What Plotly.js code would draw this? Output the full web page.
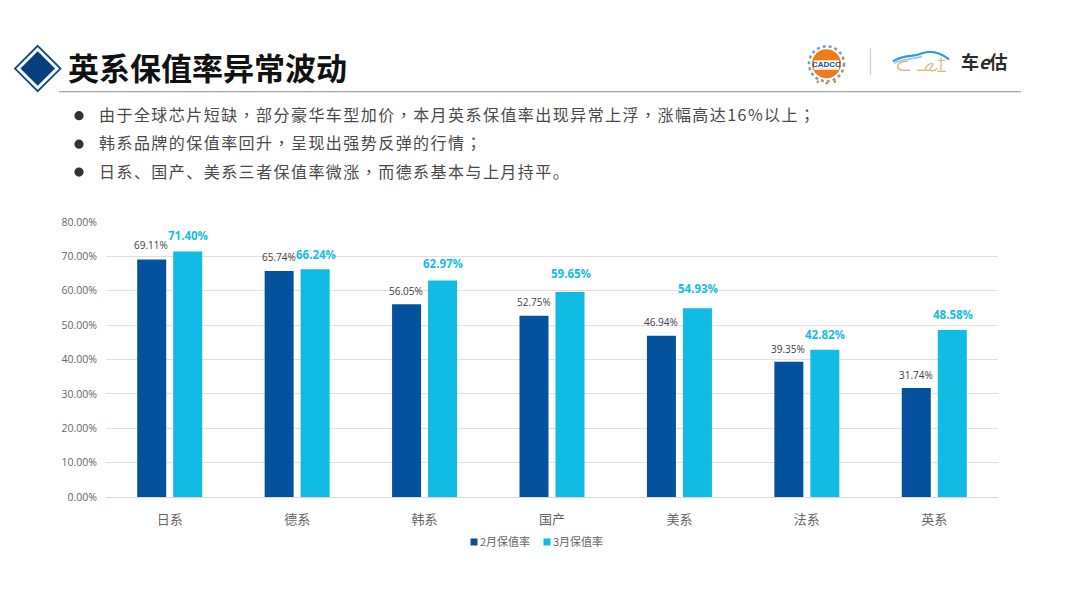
<!DOCTYPE html>
<html><head><meta charset="utf-8">
<script src="https://cdn.plot.ly/plotly-3.0.1.min.js"></script>
<style>html,body{margin:0;padding:0;background:#fff}#c{width:1080px;height:608px}</style></head><body><div id="c"></div>
<script>
var categories=['日系','德系','韩系','国产','美系','法系','英系'];
var feb=[69.11,65.74,56.05,52.75,46.94,39.35,31.74];
var mar=[71.40,66.24,62.97,59.65,54.93,42.82,48.58];
var seriesNames=['2月保值率','3月保值率'];
var title='英系保值率异常波动';
var bullets=['由于全球芯片短缺\uFF0C部分豪华车型加价\uFF0C本月英系保值率出现异常上浮\uFF0C涨幅高达16%以上\uFF1B','韩系品牌的保值率回升\uFF0C呈现出强势反弹的行情\uFF1B','日系、国产、美系三者保值率微涨\uFF0C而德系基本与上月持平。'];
var marLift=[8,6,9,10,11,7,7];
var febLift=[6,6,5,6,6,5,5];
var CJK='"Open Sans","Noto Sans CJK SC","Noto Sans",sans-serif';
var HEAD='"Noto Sans CJK SC","Noto Sans",sans-serif';
var W=1080,H=608,L=106,R=998,T=222,B=497.5;
function px(x){return (x-L)/(R-L)} function py(y){return (B-y)/(B-T)}
function P(pts,close){return pts.map(function(p,i){return (i?'L':'M')+px(p[0]).toFixed(5)+','+py(p[1]).toFixed(5)}).join('')+(close?'Z':'')}
function poly(pts,fill,line,w){return {type:'path',xref:'paper',yref:'paper',path:P(pts,true),fillcolor:fill,line:{color:line||fill,width:w||0},layer:'above'}}
function seg(a,b,c,w){return {type:'line',xref:'paper',yref:'paper',x0:px(a[0]),y0:py(a[1]),x1:px(b[0]),y1:py(b[1]),line:{color:c,width:w},layer:'above'}}
function circ(cx,cy,r,fill,line,w,dash){return {type:'circle',xref:'paper',yref:'paper',x0:px(cx-r),x1:px(cx+r),y0:py(cy+r),y1:py(cy-r),fillcolor:fill,line:{color:line||fill,width:w||0,dash:dash||'solid'},layer:'above'}}
function curve(d,c,w){return {type:'path',xref:'paper',yref:'paper',path:d.replace(/(-?[\d.]+) (-?[\d.]+)/g,function(m,a,b){return px(+a).toFixed(5)+','+py(+b).toFixed(5)}),line:{color:c,width:w},layer:'above'}}
function txt(x,y,t,size,color,extra){var a={xref:'paper',yref:'paper',x:px(x),y:py(y),text:t,showarrow:false,xanchor:'left',align:'left',yanchor:'middle',font:{family:HEAD,size:size,color:color},borderpad:0};for(var k in extra)a[k]=extra[k];return a}
function punct(s){return s.replace(/[\uFF0C\uFF1B]/g,function(c){return '<span style="font-family:\'Noto Sans CJK TC\'">'+c+'</span>'})}

var shapes=[
 seg([59,91.5],[1021,91.5],'#8c8c8c',1),
 poly([[37.7,45.5],[60.5,68.3],[37.7,91],[15,68.3]],'#fff','#0a4a8a',1.8),
 poly([[37.7,51],[55,68.3],[37.7,85.6],[20.4,68.3]],'#063f7e'),
 circ(79,115.5,4.6,'#333'),circ(79,144,4.6,'#333'),circ(79,172,4.6,'#333'),
 seg([870.5,48],[870.5,75],'#c9ced6',1.2),
 circ(826.5,63.5,17.5,'#fff','#7f9cc9',2.6,'dot'),
 circ(826.5,63.5,14.5,'#f07c1a'),
 poly([[814,60],[839,60],[839,69.5],[814,69.5]],'#fff'),
 circ(817.7,81.5,1.3,'#f07c1a'),circ(826.7,83,1.3,'#f07c1a'),circ(835,81.5,1.3,'#f07c1a'),
 curve('M893 61 C 904 54 914 57 922 53 C 930 50 940 52 949 59','#2f9fdc',2.2),
 curve('M894 63 C 902 58 912 60 922 56','#8ccdec',1.5),
 curve('M908 61 C 896 61 894 70 904 70 L 910 70','#d9bd86',1.6),
 curve('M917 70 L 930 70','#d9bd86',1.4),
 curve('M925 69 C 930 60 936 63 931 67 C 928 71 934 72 937 68','#d9bd86',1.5),
 curve('M938 60 L 945 60 M 941 57 L 941 71 M 937 71 L 946 71','#d9bd86',1.3)
];
var anns=[
 txt(67,66,'<b>'+title+'</b>',31,'#111'),
 txt(98,113.5,punct(bullets[0]),16,'#4a4a4a'),
 txt(98,142,punct(bullets[1]),16,'#4a4a4a'),
 txt(98,170.5,punct(bullets[2]),16,'#4a4a4a'),
 txt(826.5,64.7,'<b>CADCC</b>',8,'#1d4f9c',{xanchor:'center',align:'center',font:{family:'"Liberation Sans"',size:8,color:'#1d4f9c'}}),
 txt(960,61,'<b>车<i>e</i>估</b>',18,'#2b2b2b')
];
function dataLabels(vals,lift,shift,color,size,bold){return vals.map(function(v,i){return {xref:'x',yref:'y',x:categories[i],y:v,xshift:shift,yshift:lift[i],yanchor:'bottom',showarrow:false,borderpad:0,
 text:(bold?'<b>':'')+v.toFixed(2)+'%'+(bold?'</b>':''),font:{family:CJK,size:size,color:color}}})}
anns=anns.concat(dataLabels(feb,febLift,-18.5,'#404040',10,false),dataLabels(mar,marLift,18.5,'#12bde4',11.5,true));

Plotly.newPlot('c',[
 {type:'bar',name:seriesNames[0],x:categories,y:feb,marker:{color:'#04529e'}},
 {type:'bar',name:seriesNames[1],x:categories,y:mar,marker:{color:'#10bce3'}}
],{
 width:W,height:H,paper_bgcolor:'#fff',plot_bgcolor:'#fff',
 margin:{l:L,r:W-R,t:T,b:H-B,pad:0},
 barmode:'group',bargap:0.435,bargroupgap:0.194,
 font:{family:CJK},
 xaxis:{type:'category',categoryorder:'array',categoryarray:categories,tickfont:{family:HEAD,size:13,color:'#666'},ticks:'',showline:true,linecolor:'#d9d9d9',linewidth:1,showgrid:false,ticklabelstandoff:10},
 yaxis:{range:[0,80],dtick:10,tickformat:'.2f',ticksuffix:'%',tickfont:{size:10.5,color:'#666'},gridcolor:'#e0e0e0',gridwidth:1,zeroline:false,ticks:'',ticklabelstandoff:8},
 showlegend:true,
 legend:{orientation:'h',x:0.5,xanchor:'center',y:-0.125,yanchor:'top',font:{family:HEAD,size:11,color:'#666'},itemwidth:30,traceorder:'normal'},
 shapes:shapes,annotations:anns
},{displayModeBar:false,staticPlot:true}).then(function(){
 document.querySelectorAll('.annotation-text').forEach(function(n){if(n.textContent.length>15)n.style.letterSpacing='1.45px'});
 var lg=document.querySelector('g.legend');
 lg.setAttribute('transform','translate(0,542)');
 var sb=lg.querySelector('.scrollbox'); if(sb){sb.removeAttribute('clip-path');sb.setAttribute('transform','translate(0,0)')}
 var bg=lg.querySelector('rect.bg'); if(bg)bg.style.display='none';
 var xs=[474,547];
 lg.querySelectorAll('g.traces').forEach(function(t,i){
  t.setAttribute('transform','translate('+xs[i]+',0)');
  t.querySelectorAll('g.legendpoints path').forEach(function(p){p.setAttribute('d','M3.5,3.5H-3.5V-3.5H3.5Z');p.setAttribute('transform','translate(0,0)')});
  var tx=t.querySelector('text.legendtext'); tx.setAttribute('x',6);tx.setAttribute('y',4);tx.querySelectorAll('tspan').forEach(function(s){s.setAttribute('x',6)});
 });
});
</script></body></html>
